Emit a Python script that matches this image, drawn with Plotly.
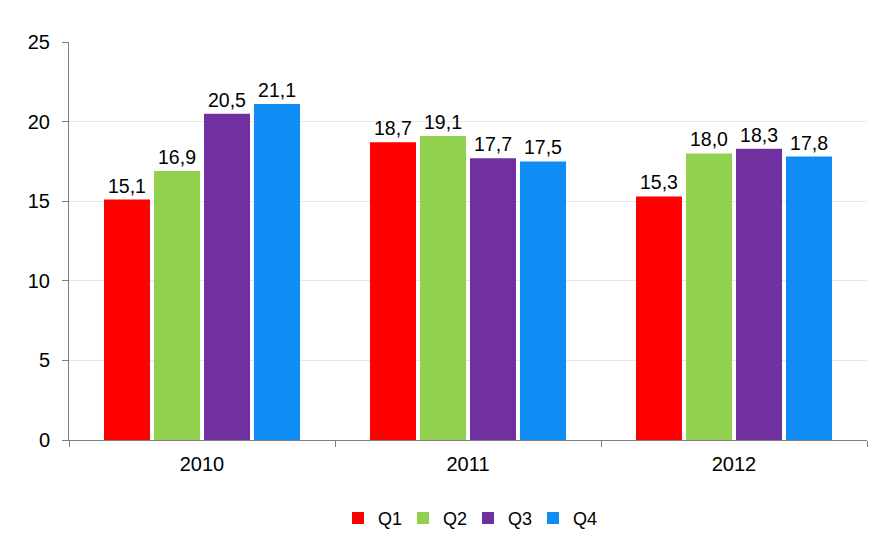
import plotly.graph_objects as go

years = ["2010", "2011", "2012"]
series_names = ["Q1", "Q2", "Q3", "Q4"]
q1 = [15.1, 18.7, 15.3]
q2 = [16.9, 19.1, 18.0]
q3 = [20.5, 17.7, 18.3]
q4 = [21.1, 17.5, 17.8]
colors = ["#FF0000", "#92D050", "#7030A0", "#108CF5"]

fig = go.Figure()
for name, vals, c in zip(series_names, [q1, q2, q3, q4], colors):
    fig.add_trace(go.Bar(
        x=years, y=vals, name=name, marker=dict(color=c, line=dict(width=0)),
        text=[f"{v:.1f}".replace(".", ",") for v in vals],
        textposition="outside", textfont=dict(size=19.5, color="#000000"),
        cliponaxis=False,
    ))

fig.update_layout(
    width=890, height=555,
    margin=dict(l=69, r=23, t=42, b=115),
    paper_bgcolor="white", plot_bgcolor="white",
    font=dict(family="Liberation Sans, Arial, sans-serif", size=20, color="#000000"),
    barmode="group", bargap=0.248, bargroupgap=0.08,
    showlegend=True,
    legend=dict(orientation="h", x=0.5, xanchor="center", y=-0.15, yanchor="top",
                font=dict(size=18), itemwidth=30, traceorder="normal",
                entrywidth=20, entrywidthmode="pixels"),
    xaxis=dict(showline=True, linecolor="#808080", linewidth=1,
               ticks="outside", tickson="boundaries", ticklen=6, tickcolor="#808080",
               showgrid=False, tickfont=dict(size=20), ticklabelstandoff=6),
    yaxis=dict(range=[0, 25], dtick=5, showline=True, linecolor="#808080", linewidth=1,
               ticks="outside", ticklen=6, tickcolor="#808080",
               showgrid=True, gridcolor="#E6E6E6", gridwidth=1,
               zeroline=False, tickfont=dict(size=20), ticklabelstandoff=8),
)

fig.write_html("out.html", config={"displayModeBar": False},
               post_script="document.body.style.margin='0';")
